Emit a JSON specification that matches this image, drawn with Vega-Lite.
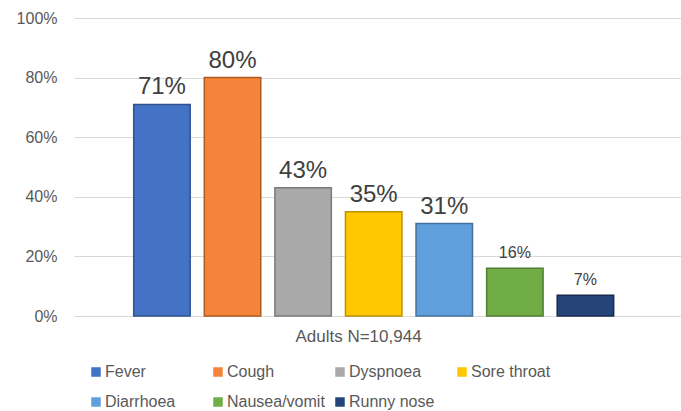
{
  "$schema": "https://vega.github.io/schema/vega-lite/v6.json",
  "width": 607,
  "height": 298,
  "autosize": {"type": "none"},
  "padding": {"left": 74, "top": 18, "right": 0, "bottom": 95},
  "background": "white",
  "config": {
    "view": {"stroke": null},
    "font": "Liberation Sans"
  },
  "data": {
    "values": [
      {"symptom": "Fever", "value": 0.71},
      {"symptom": "Cough", "value": 0.80},
      {"symptom": "Dyspnoea", "value": 0.43},
      {"symptom": "Sore throat", "value": 0.35},
      {"symptom": "Diarrhoea", "value": 0.31},
      {"symptom": "Nausea/vomit", "value": 0.16},
      {"symptom": "Runny nose", "value": 0.07}
    ]
  },
  "encoding": {
    "x": {
      "field": "symptom",
      "type": "nominal",
      "sort": null,
      "scale": {"paddingInner": 0.2, "paddingOuter": 0.9, "align": 0.47},
      "axis": {
        "title": "Adults N=10,944",
        "labels": false,
        "ticks": false,
        "domain": true,
        "domainColor": "#d9d9d9",
        "titleFontSize": 17,
        "titleFontWeight": "normal",
        "titleColor": "#595959",
        "titlePadding": 12,
        "titleX": 284,
        "titleAlign": "center"
      }
    },
    "y": {
      "field": "value",
      "type": "quantitative",
      "scale": {"domain": [0, 1]},
      "axis": {
        "title": null,
        "format": ".0%",
        "values": [0, 0.2, 0.4, 0.6, 0.8, 1],
        "domain": false,
        "ticks": false,
        "labelPadding": 17,
        "labelFontSize": 16,
        "labelColor": "#595959",
        "gridColor": "#d9d9d9",
        "gridWidth": 1
      }
    }
  },
  "layer": [
    {
      "mark": {"type": "bar", "strokeWidth": 1.5},
      "encoding": {
        "color": {
          "field": "symptom",
          "type": "nominal",
          "sort": null,
          "scale": {
            "domain": ["Fever", "Cough", "Dyspnoea", "Sore throat", "Diarrhoea", "Nausea/vomit", "Runny nose"],
            "range": ["#4472C4", "#F5843A", "#A9A9A9", "#FFC800", "#5FA0DC", "#70AD47", "#264478"]
          },
          "legend": {
            "title": null,
            "orient": "none",
            "legendX": 14,
            "legendY": 346,
            "direction": "horizontal",
            "columns": 4,
            "gridAlign": "all",
            "columnPadding": 7,
            "rowPadding": 14,
            "padding": 0,
            "symbolType": "square",
            "symbolSize": 90,
            "symbolStrokeWidth": 0,
            "labelOffset": 1,
            "labelFontSize": 16,
            "labelColor": "#595959",
            "labelLimit": 200
          }
        },
        "stroke": {
          "field": "symptom",
          "type": "nominal",
          "sort": null,
          "scale": {
            "domain": ["Fever", "Cough", "Dyspnoea", "Sore throat", "Diarrhoea", "Nausea/vomit", "Runny nose"],
            "range": ["#2F528F", "#AE5A21", "#7B7B7B", "#BF9000", "#41719C", "#507E32", "#172B4D"]
          },
          "legend": null
        }
      }
    },
    {
      "mark": {"type": "text", "baseline": "alphabetic", "dy": -10, "color": "#404040"},
      "encoding": {
        "text": {"field": "value", "type": "quantitative", "format": ".0%"},
        "size": {"condition": {"test": "datum.value < 0.2", "value": 16}, "value": 24}
      }
    }
  ]
}
